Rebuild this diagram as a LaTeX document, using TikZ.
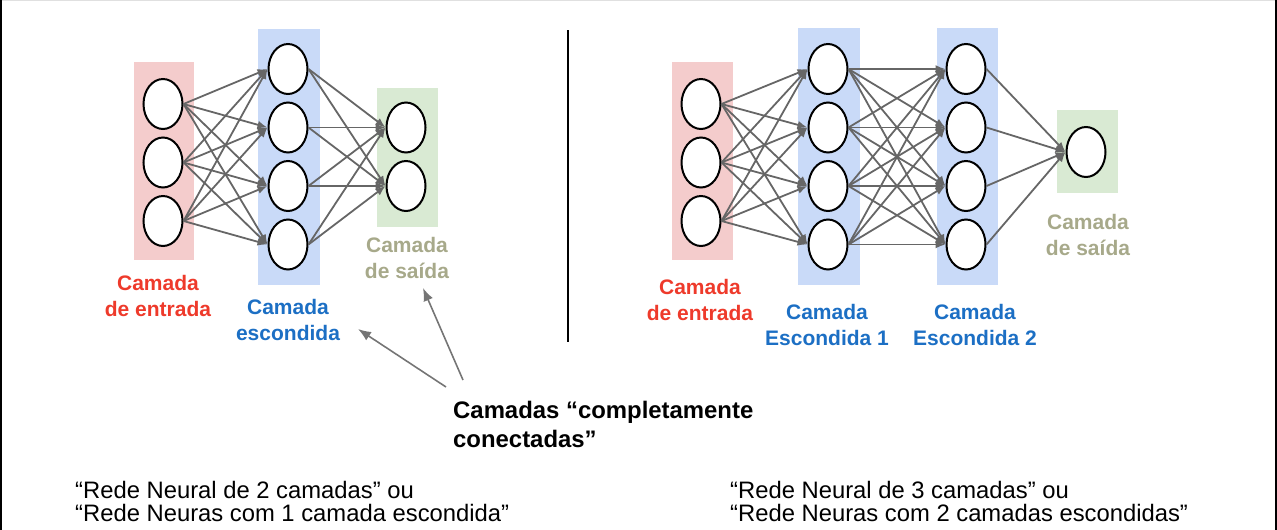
\documentclass[tikz,border=0pt]{standalone}
\usepackage{fontspec}
\setmainfont{Liberation Sans}
\usepackage{tikz}
\usetikzlibrary{arrows.meta, shapes.geometric}
\definecolor{redbox}{HTML}{F4CCCC}
\definecolor{bluebox}{HTML}{C9DAF8}
\definecolor{greenbox}{HTML}{D9EAD3}
\definecolor{redtext}{HTML}{EE3A2B}
\definecolor{bluetext}{HTML}{1C6FC4}
\definecolor{greentext}{HTML}{A7A98A}
\definecolor{linkgray}{HTML}{666666}
\tikzset{neuron/.style={draw=black, line width=2pt, fill=white, ellipse, minimum width=39pt, minimum height=50pt, inner sep=0pt}}
\tikzset{link/.style={draw=linkgray, line width=1.8pt, -{Latex[length=10pt, width=8pt]}}}
\tikzset{pointer/.style={draw=linkgray!90, line width=1.6pt, -{Latex[length=13pt, width=10pt]}}}
\tikzset{tag/.style={font=\bfseries\fontsize{21}{25.5}\selectfont, align=center, inner sep=0pt, text=#1}}
\tikzset{tag/.default=black}
\tikzset{caption/.style={font=\fontsize{23.8}{22.5}\selectfont, align=left, inner sep=0pt, anchor=north west}}

\begin{document}
\begin{tikzpicture}[x=1pt, y=-1pt]
            \useasboundingbox (0,0) rectangle (1277,530);
            \draw[black!12, line width=1pt] (0,0.5) -- (1277,0.5);
            \draw[black, line width=2pt] (1,0) -- (1,530);
            \draw[black, line width=2pt] (1276,0) -- (1276,530);
            % layer boxes
            \fill[redbox] (134,62) rectangle (194,260);
            \fill[bluebox] (258,29) rectangle (320,285);
            \fill[greenbox] (377,88) rectangle (438,227);
            \fill[redbox] (672,62) rectangle (733,260);
            \fill[bluebox] (798,28) rectangle (860,285);
            \fill[bluebox] (937,28) rectangle (998,285);
            \fill[greenbox] (1057,110) rectangle (1118,193);
            % 2-layer net
            \foreach \k in {1,2,3} \node[neuron] (i\k) at (163, 45.5+58.5*\k) {};
            \foreach \k in {1,...,4} \node[neuron] (h\k) at (288, 10.5+58.5*\k) {};
            \foreach \k in {1,2} \node[neuron] (o\k) at (406, 69+58.5*\k) {};
            \foreach \i in {1,2,3} \foreach \j in {1,...,4} \draw[link] (i\i.east) -- (h\j.west);
            \foreach \i in {1,...,4} \foreach \j in {1,2} \draw[link] (h\i.east) -- (o\j.west);
            % 3-layer net
            \foreach \k in {1,2,3} \node[neuron] (I\k) at (701, 45.5+58.5*\k) {};
            \foreach \k in {1,...,4} \node[neuron] (A\k) at (828, 10.5+58.5*\k) {};
            \foreach \k in {1,...,4} \node[neuron] (B\k) at (966, 10.5+58.5*\k) {};
            \node[neuron] (O) at (1086, 152) {};
            \foreach \i in {1,2,3} \foreach \j in {1,...,4} \draw[link] (I\i.east) -- (A\j.west);
            \foreach \i in {1,...,4} \foreach \j in {1,...,4} \draw[link] (A\i.east) -- (B\j.west);
            \foreach \i in {1,...,4} \draw[link] (B\i.east) -- (O.west);
            % layer names
            \node[tag=redtext] (entradaL) at (158,296) {Camada\\de entrada};
            \node[tag=bluetext] (escondidaL) at (288,320) {Camada\\escondida};
            \node[tag=greentext] (saidaL) at (407,258) {Camada\\de saída};
            \node[tag=redtext] (entradaR) at (700,300) {Camada\\de entrada};
            \node[tag=bluetext] (escondida1) at (827,325) {Camada\\Escondida 1};
            \node[tag=bluetext] (escondida2) at (975,325) {Camada\\Escondida 2};
            \node[tag=greentext] (saidaR) at (1088,235) {Camada\\de saída};
            \draw[black, line width=2.5pt] (568,30) -- (568,342);
            % fully connected note
            \node[caption, font=\bfseries\fontsize{23.9}{29}\selectfont] (conectadas) at (453,401) {Camadas “completamente\\conectadas”};
            \coordinate (fromA) at (446,387);
            \coordinate (fromB) at (463,380);
            \coordinate (tipA) at (358,329);
            \coordinate (tipB) at (423,288);
            \draw[pointer] (fromA) -- (tipA);
            \draw[pointer] (fromB) -- (tipB);
            \node[caption] (rede2) at (75,481.5) {“Rede Neural de 2 camadas” ou\\“Rede Neuras com 1 camada escondida”};
            \node[caption] (rede3) at (730,481.5) {“Rede Neural de 3 camadas” ou\\“Rede Neuras com 2 camadas escondidas”};
        \end{tikzpicture}
\end{document}
